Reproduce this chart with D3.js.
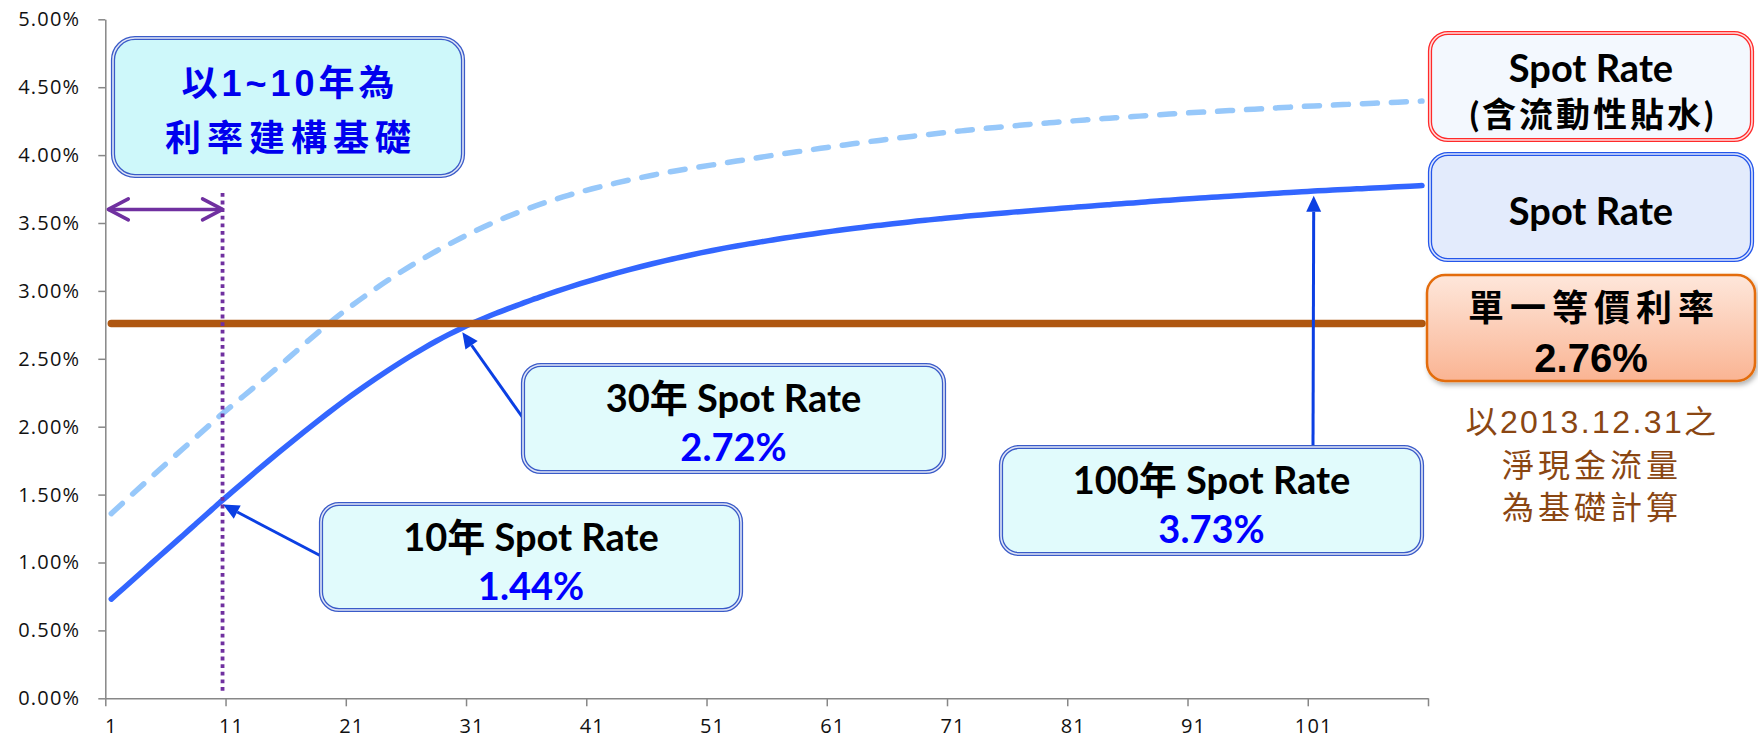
<!DOCTYPE html>
<html>
<head>
<meta charset="utf-8">
<script src="https://cdn.jsdelivr.net/npm/d3@7"></script>
<style>
  html, body { margin: 0; padding: 0; background: #ffffff; }
  svg { display: block; }
</style>
</head>
<body>
<svg id="chart" width="1758" height="744"></svg>
<script>
// ---- data -------------------------------------------------------------
// tenor in years (category axis)
const years = d3.range(1, 111);
const xTickLabels = [1, 11, 21, 31, 41, 51, 61, 71, 81, 91, 101];
const yTickValues = [0, 0.5, 1, 1.5, 2, 2.5, 3, 3.5, 4, 4.5, 5];

// spot rate curve (%), years 1..110
const spotRate = [
  0.730, 0.809, 0.888, 0.967, 1.046, 1.124, 1.203, 1.282, 1.361, 1.440,
  1.516, 1.592, 1.668, 1.743, 1.817, 1.889, 1.960, 2.030, 2.099, 2.166,
  2.231, 2.294, 2.355, 2.414, 2.471, 2.526, 2.579, 2.629, 2.676, 2.720,
  2.761, 2.799, 2.835, 2.869, 2.902, 2.935, 2.966, 2.996, 3.025, 3.053,
  3.080, 3.106, 3.131, 3.155, 3.178, 3.200, 3.221, 3.241, 3.261, 3.280,
  3.298, 3.315, 3.331, 3.346, 3.361, 3.375, 3.389, 3.402, 3.415, 3.428,
  3.440, 3.452, 3.463, 3.474, 3.484, 3.494, 3.504, 3.514, 3.523, 3.532,
  3.541, 3.549, 3.557, 3.565, 3.572, 3.580, 3.587, 3.594, 3.601, 3.608,
  3.615, 3.622, 3.628, 3.635, 3.642, 3.648, 3.655, 3.662, 3.668, 3.675,
  3.681, 3.686, 3.692, 3.697, 3.703, 3.708, 3.714, 3.719, 3.725, 3.730,
  3.735, 3.740, 3.744, 3.749, 3.753, 3.758, 3.762, 3.767, 3.771, 3.776
];

// spot rate including liquidity premium (%), years 1..110
const spotRateLiquidity = [
  1.360, 1.442, 1.523, 1.603, 1.683, 1.762, 1.841, 1.920, 1.999, 2.078,
  2.152, 2.226, 2.300, 2.374, 2.450, 2.527, 2.604, 2.680, 2.754, 2.825,
  2.892, 2.956, 3.018, 3.078, 3.135, 3.190, 3.242, 3.292, 3.340, 3.386,
  3.430, 3.472, 3.512, 3.549, 3.584, 3.617, 3.648, 3.677, 3.704, 3.729,
  3.752, 3.774, 3.795, 3.815, 3.834, 3.852, 3.869, 3.885, 3.900, 3.914,
  3.928, 3.942, 3.956, 3.970, 3.984, 3.998, 4.011, 4.024, 4.037, 4.050,
  4.062, 4.075, 4.087, 4.099, 4.110, 4.121, 4.132, 4.142, 4.152, 4.162,
  4.172, 4.181, 4.190, 4.199, 4.207, 4.215, 4.223, 4.231, 4.238, 4.245,
  4.252, 4.259, 4.266, 4.272, 4.278, 4.284, 4.290, 4.296, 4.302, 4.308,
  4.313, 4.318, 4.323, 4.328, 4.333, 4.338, 4.343, 4.348, 4.353, 4.358,
  4.362, 4.366, 4.370, 4.374, 4.378, 4.382, 4.386, 4.390, 4.394, 4.398
];

// single equivalent rate (%)
const equivalentRate = 2.76;

// tenors called out on the spot curve
const calloutTenors = [10, 30, 100];
// construction horizon of the curve (years)
const constructionYears = 10;
const constructionArrowLevel = 3.6;

// ---- layout -----------------------------------------------------------
const svg = d3.select('#chart');
const plot = { left: 105.3, right: 1428, top: 19.3, bottom: 698.3 };

const x = d3.scaleBand().domain(years).range([plot.left, plot.right]).padding(0);
const xEdge = d3.scaleLinear().domain([0, years.length]).range([plot.left, plot.right]);
const y = d3.scaleLinear().domain([0, 5]).range([plot.bottom, plot.top]);
const xc = yr => x(yr) + x.bandwidth() / 2;

const defs = svg.append('defs');
const grad = defs.append('linearGradient').attr('id', 'eqFill')
  .attr('x1', 0).attr('y1', 0).attr('x2', 0).attr('y2', 1);
grad.append('stop').attr('offset', '0%').attr('stop-color', '#FEE7DB');
grad.append('stop').attr('offset', '100%').attr('stop-color', '#FAB493');
defs.append('filter').attr('id', 'shadow')
  .attr('x', '-10%').attr('y', '-10%').attr('width', '130%').attr('height', '150%')
  .append('feDropShadow').attr('dx', 2).attr('dy', 3).attr('stdDeviation', 2.5)
  .attr('flood-color', '#000').attr('flood-opacity', 0.3);

// ---- axes -------------------------------------------------------------
const axisColor = '#878787';
const tickFont = "'Open Sans', sans-serif";

const yAxis = svg.append('g').attr('transform', `translate(${plot.left},0)`)
  .call(d3.axisLeft(y).tickValues(yTickValues).tickSize(7).tickSizeOuter(0)
    .tickPadding(18).tickFormat(d => d3.format('.2f')(d) + '%'));
yAxis.selectAll('path, line').attr('stroke', axisColor).attr('stroke-width', 1.5);
yAxis.selectAll('text').attr('font-family', tickFont).attr('font-size', 20)
  .attr('letter-spacing', 1.2).attr('fill', '#111');

const xAxis = svg.append('g').attr('transform', `translate(0,${plot.bottom})`)
  .call(d3.axisBottom(xEdge).tickValues(d3.range(0, years.length + 1, 10))
    .tickSize(8).tickSizeOuter(0).tickFormat(''));
xAxis.selectAll('path, line').attr('stroke', axisColor).attr('stroke-width', 1.5);

const xLabels = svg.append('g').attr('transform', `translate(0,${plot.bottom})`)
  .call(d3.axisBottom(x).tickValues(xTickLabels).tickSize(0).tickPadding(21));
xLabels.select('.domain').remove();
xLabels.selectAll('text').attr('font-family', tickFont).attr('font-size', 20)
  .attr('letter-spacing', 1.2).attr('fill', '#111');

// ---- series -----------------------------------------------------------
const line = d3.line().x(d => xc(d.year)).y(d => y(d.rate)).curve(d3.curveMonotoneX);
const toPoints = arr => arr.map((r, i) => ({ year: years[i], rate: r }));

svg.append('path').datum(toPoints(spotRateLiquidity)).attr('d', line)
  .attr('fill', 'none').attr('stroke', '#97C8FA').attr('stroke-width', 5.5)
  .attr('stroke-linecap', 'round').attr('stroke-dasharray', '15,14');

svg.append('path').datum(toPoints(spotRate)).attr('d', line)
  .attr('fill', 'none').attr('stroke', '#3366FF').attr('stroke-width', 5.5)
  .attr('stroke-linecap', 'round');

svg.append('path').datum(years.map(yr => ({ year: yr, rate: equivalentRate }))).attr('d', line)
  .attr('fill', 'none').attr('stroke', '#AF5711').attr('stroke-width', 7.5)
  .attr('stroke-linecap', 'round');

// ---- construction horizon marker --------------------------------------
const purple = '#7030A0';
const horizonX = x(constructionYears) + x.bandwidth() * 0.75;
svg.append('line')
  .attr('x1', horizonX).attr('x2', horizonX).attr('y1', 193).attr('y2', 692)
  .attr('stroke', purple).attr('stroke-width', 3.8).attr('stroke-dasharray', '3.8,3.8');

const arrowY = y(constructionArrowLevel);
const ax0 = plot.left + 3, ax1 = horizonX;
svg.append('line').attr('x1', ax0).attr('x2', ax1).attr('y1', arrowY).attr('y2', arrowY)
  .attr('stroke', purple).attr('stroke-width', 3.5);
svg.append('path')
  .attr('d', `M${ax0 + 20},${arrowY - 10.5} L${ax0},${arrowY} L${ax0 + 20},${arrowY + 10.5}
              M${ax1 - 20},${arrowY - 10.5} L${ax1},${arrowY} L${ax1 - 20},${arrowY + 10.5}`)
  .attr('fill', 'none').attr('stroke', purple).attr('stroke-width', 3.5)
  .attr('stroke-linecap', 'round').attr('stroke-linejoin', 'round');

// ---- helpers ----------------------------------------------------------
function doubleBox(b, color, fill, r) {
  const g = svg.append('g');
  g.append('rect').attr('x', b.x).attr('y', b.y).attr('width', b.w).attr('height', b.h)
    .attr('rx', r).attr('fill', fill).attr('stroke', color).attr('stroke-width', 4.2);
  g.append('rect').attr('x', b.x).attr('y', b.y).attr('width', b.w).attr('height', b.h)
    .attr('rx', r).attr('fill', 'none').attr('stroke', '#ffffff').attr('stroke-width', 1.6)
    .attr('stroke-opacity', 0.85);
  return g;
}

function label(text, cx, cy, opts) {
  return svg.append('text').attr('x', cx).attr('y', cy)
    .attr('text-anchor', 'middle').attr('dominant-baseline', 'central')
    .attr('font-family', opts.family).attr('font-size', opts.size)
    .attr('font-weight', opts.weight || 700).attr('fill', opts.fill || '#000')
    .attr('letter-spacing', opts.spacing || 0)
    .text(text);
}

const arrowBlue = '#0B3FE3';
function arrow(x1, y1, x2, y2) {
  const dx = x2 - x1, dy = y2 - y1, len = Math.hypot(dx, dy);
  const ux = dx / len, uy = dy / len;
  const hl = 16, hw = 7.5;
  const bx = x2 - ux * hl, by = y2 - uy * hl;
  svg.append('line').attr('x1', x1).attr('y1', y1).attr('x2', bx).attr('y2', by)
    .attr('stroke', arrowBlue).attr('stroke-width', 3);
  svg.append('path')
    .attr('d', `M${x2},${y2} L${bx - uy * hw},${by + ux * hw} L${bx + uy * hw},${by - ux * hw} Z`)
    .attr('fill', arrowBlue);
}

// ---- callouts on the spot curve ---------------------------------------
const latin = "Lato, 'Noto Sans CJK TC', sans-serif";
const calloutBoxes = {
  10:  { x: 321,  y: 504, w: 420, h: 106, ax: 321,  ay: 556, tipDx: 0 },
  30:  { x: 523,  y: 365, w: 421, h: 107, ax: 523,  ay: 418, tipDx: 0 },
  100: { x: 1001, y: 447, w: 421, h: 107, ax: 1313, ay: 447, tipDx: 12 }
};

calloutTenors.forEach(t => {
  const b = calloutBoxes[t];
  const rate = spotRate[years.indexOf(t)];
  const tx = xc(t) + b.tipDx, ty = y(rate);
  // stop the arrow head just short of the curve
  const d = Math.hypot(b.ax - tx, b.ay - ty);
  const off = 4;
  arrow(b.ax, b.ay, tx + (b.ax - tx) / d * off, ty + (b.ay - ty) / d * off);
  doubleBox(b, '#3A5BC8', '#E1FBFC', 18);
  const cx = b.x + b.w / 2;
  label(`${t}年 Spot Rate`, cx, b.y + 32, { family: latin, size: 38 });
  label(d3.format('.2f')(rate) + '%', cx, b.y + 81, { family: latin, size: 38, fill: '#0000FF' });
});

// ---- construction note ------------------------------------------------
const cjkBold = "'Liberation Sans', 'Noto Sans CJK TC', sans-serif";
const noteBox = { x: 113, y: 38, w: 350, h: 138 };
doubleBox(noteBox, '#3A5BC8', '#CEF8FA', 22);
label('以1~10年為', noteBox.x + noteBox.w / 2 + 2, 83, { family: cjkBold, size: 36, fill: '#0000EE', spacing: 4 });
label('利率建構基礎', noteBox.x + noteBox.w / 2 + 3, 138, { family: cjkBold, size: 36, fill: '#0000EE', spacing: 6 });

// ---- series labels on the right ---------------------------------------
const liqBox = { x: 1430, y: 33, w: 322, h: 107 };
doubleBox(liqBox, '#FF2A2A', '#F3F8FE', 18);
label('Spot Rate', liqBox.x + liqBox.w / 2, 67, { family: latin, size: 38 });
label('(含流動性貼水)', liqBox.x + liqBox.w / 2 + 2, 113, { family: latin, size: 34, spacing: 3 });

const spotBox = { x: 1430, y: 154, w: 322, h: 106 };
doubleBox(spotBox, '#2456EA', '#E3EBFC', 18);
label('Spot Rate', spotBox.x + spotBox.w / 2, 210, { family: latin, size: 38 });

const eqBox = { x: 1427, y: 275, w: 328, h: 106 };
svg.append('rect').attr('x', eqBox.x).attr('y', eqBox.y).attr('width', eqBox.w).attr('height', eqBox.h)
  .attr('rx', 18).attr('fill', 'url(#eqFill)').attr('stroke', '#E36C0A').attr('stroke-width', 2.5)
  .attr('filter', 'url(#shadow)');
label('單一等價利率', eqBox.x + eqBox.w / 2 + 3, 308, { family: cjkBold, size: 36, spacing: 6 });
label(d3.format('.2f')(equivalentRate) + '%', eqBox.x + eqBox.w / 2, 358, { family: cjkBold, size: 40 });

const brown = '#8A4612';
label('以2013.12.31之', 1592, 422, { family: cjkBold, size: 32, weight: 400, fill: brown, spacing: 2.4 });
label('淨現金流量', 1592, 466, { family: cjkBold, size: 32, weight: 400, fill: brown, spacing: 4 });
label('為基礎計算', 1592, 508, { family: cjkBold, size: 32, weight: 400, fill: brown, spacing: 4 });
</script>
</body>
</html>
